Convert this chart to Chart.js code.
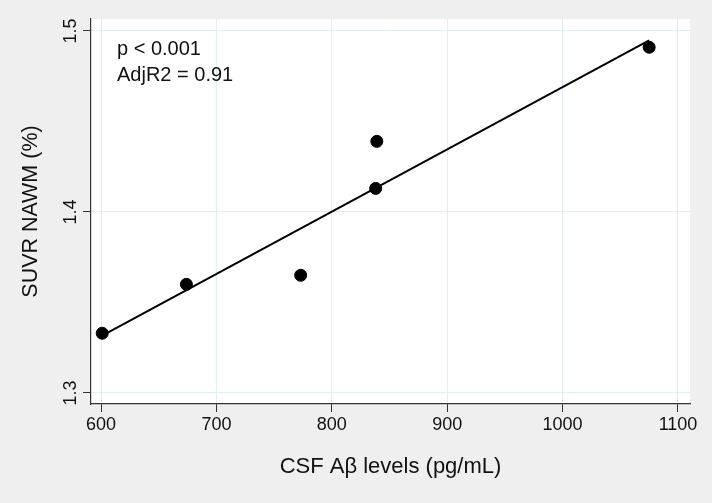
<!DOCTYPE html>
<html>
<head>
<meta charset="utf-8">
<script src="https://cdn.jsdelivr.net/npm/chart.js@4.4.1/dist/chart.umd.min.js"></script>
<style>
  html, body { margin: 0; padding: 0; background: #efefef; }
  #wrap { width: 712px; height: 503px; }
</style>
</head>
<body>
<div id="wrap"><canvas id="c" width="712" height="503"></canvas></div>
<script>
// ---- data ----
const csfAbeta = [601, 674, 773, 838, 839, 1075];      // x: CSF Aβ levels (pg/mL)
const suvrNawm = [1.333, 1.360, 1.365, 1.413, 1.439, 1.491]; // y: SUVR NAWM (%)
const xTickValues = [600, 700, 800, 900, 1000, 1100];
const yTickValues = [1.3, 1.4, 1.5];
const yTickLabels = ['1.3', '1.4', '1.5'];
const statLines = ['p < 0.001', 'AdjR2 = 0.91'];
const xTitle = 'CSF Aβ levels (pg/mL)';
const yTitle = 'SUVR NAWM (%)';

// least-squares fit line through the observed points
const n = csfAbeta.length;
const mx = csfAbeta.reduce((a, b) => a + b, 0) / n;
const my = suvrNawm.reduce((a, b) => a + b, 0) / n;
let sxy = 0, sxx = 0;
for (let i = 0; i < n; i++) { sxy += (csfAbeta[i] - mx) * (suvrNawm[i] - my); sxx += (csfAbeta[i] - mx) ** 2; }
const slope = sxy / sxx, intercept = my - slope * mx;
const xMin = Math.min(...csfAbeta), xMax = Math.max(...csfAbeta);
const fitLine = [xMin, xMax].map(x => ({ x, y: intercept + slope * x }));

const points = csfAbeta.map((x, i) => ({ x, y: suvrNawm[i] }));

const FONT = "'Liberation Sans', Arial, Helvetica, sans-serif";

const bgPlugin = {
  id: 'bg',
  beforeDraw(chart) {
    const { ctx, chartArea: a } = chart;
    ctx.save();
    ctx.fillStyle = '#efefef';
    ctx.fillRect(0, 0, chart.width, chart.height);
    ctx.fillStyle = '#ffffff';
    ctx.fillRect(a.left, a.top, a.right - a.left, a.bottom - a.top);
    ctx.restore();
  },
  afterDraw(chart) {
    const { ctx, chartArea: a } = chart;
    const ys = chart.scales.y;
    ctx.save();
    ctx.fillStyle = '#111';
    ctx.font = '18px ' + FONT;
    ctx.textAlign = 'center';
    ctx.textBaseline = 'middle';
    yTickValues.forEach((v, i) => {
      const py = ys.getPixelForValue(v);
      ctx.save();
      ctx.translate(a.left - 20, py);
      ctx.rotate(-Math.PI / 2);
      ctx.fillText(yTickLabels[i], 0, 0);
      ctx.restore();
    });
    ctx.font = '20px ' + FONT;
    ctx.textAlign = 'left';
    ctx.textBaseline = 'alphabetic';
    ctx.fillText(statLines[0], a.left + 26, 55);
    ctx.fillText(statLines[1], a.left + 26, 81);
    ctx.restore();
  }
};

new Chart(document.getElementById('c'), {
  type: 'scatter',
  data: {
    datasets: [
      {
        type: 'line',
        data: fitLine,
        borderColor: '#000',
        borderWidth: 2,
        pointRadius: 0,
        fill: false,
        tension: 0
      },
      {
        data: points,
        backgroundColor: '#000',
        borderColor: '#000',
        pointRadius: 6,
        pointHoverRadius: 6
      }
    ]
  },
  options: {
    responsive: false,
    animation: false,
    events: [],
    layout: { padding: { left: 0, right: 22, top: 19, bottom: 0 } },
    plugins: { legend: { display: false }, tooltip: { enabled: false } },
    scales: {
      x: {
        type: 'linear',
        min: 591.3,
        max: 1110.4,
        afterBuildTicks: s => { s.ticks = xTickValues.map(v => ({ value: v })); },
        afterFit: s => { s.height = 503 - 404; },
        grid: { color: '#e2edf2', lineWidth: 1, tickColor: '#333', tickLength: 8, drawTicks: true },
        border: { display: true, color: '#333', width: 1.2 },
        ticks: { color: '#111', font: { size: 18, family: FONT }, padding: 2, maxRotation: 0, callback: v => String(v) },
        title: { display: true, text: xTitle, color: '#111', font: { size: 22, family: FONT }, padding: { top: 0, bottom: 23 } }
      },
      y: {
        type: 'linear',
        min: 1.2939,
        max: 1.5066,
        afterBuildTicks: s => { s.ticks = yTickValues.map(v => ({ value: v })); },
        afterFit: s => { s.width = 91; },
        grid: { color: '#e2edf2', lineWidth: 1, tickColor: '#333', tickLength: 8, drawTicks: true },
        border: { display: true, color: '#333', width: 1.2 },
        ticks: { display: false },
        title: { display: true, text: yTitle, color: '#111', font: { size: 21.5, family: FONT }, padding: { top: 18, bottom: 0 } }
      }
    }
  },
  plugins: [bgPlugin]
});
</script>
</body>
</html>
